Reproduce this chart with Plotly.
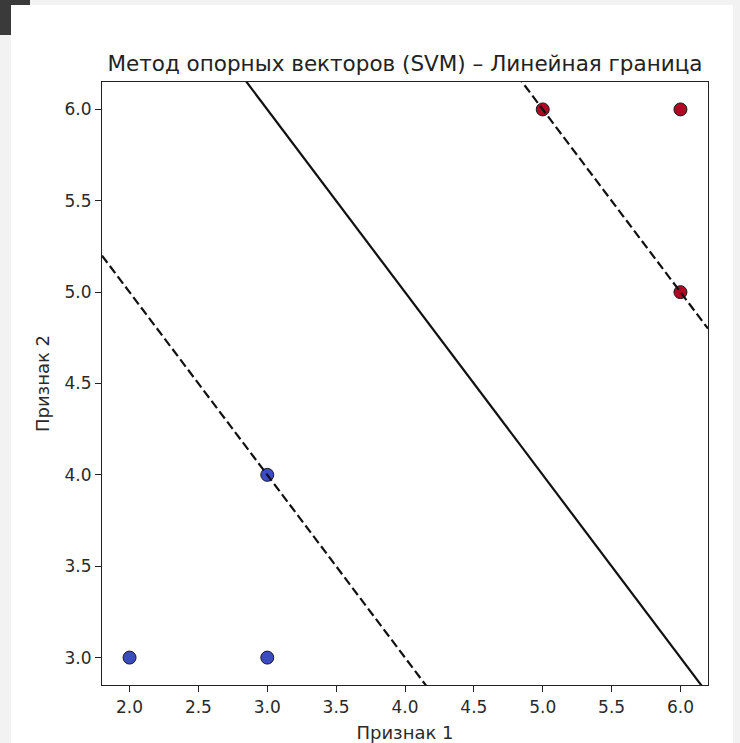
import plotly.graph_objects as go
import numpy as np

# Data
class_a_x = [2, 3, 3]
class_a_y = [3, 3, 4]
class_b_x = [5, 6, 6]
class_b_y = [6, 6, 5]
svm_w = [0.5, 0.5]
svm_b = -4.5
levels = [-1, 0, 1]
level_dash = ["dash", "solid", "dash"]
x_ticks = [2.0, 2.5, 3.0, 3.5, 4.0, 4.5, 5.0, 5.5, 6.0]
y_ticks = [3.0, 3.5, 4.0, 4.5, 5.0, 5.5, 6.0]
x_range = [1.8, 6.2]
y_range = [2.85, 6.15]

W, H = 740, 743
ML, MR, MT, MB = 102, 32, 82, 58
PW, PH = W - ML - MR, H - MT - MB


def px_x(p):
    return (p - ML) / PW


def px_y(p):
    return 1 - (p - MT) / PH


fig = go.Figure()

fig.add_trace(go.Scatter(
    x=class_a_x, y=class_a_y, mode="markers",
    marker=dict(size=13, color="#3b4cc0", line=dict(color="#1a1a1a", width=1)),
    showlegend=False, hoverinfo="skip"))
fig.add_trace(go.Scatter(
    x=class_b_x, y=class_b_y, mode="markers",
    marker=dict(size=13, color="#b40426", line=dict(color="#1a1a1a", width=1)),
    showlegend=False, hoverinfo="skip"))

xs = np.array(x_range)
for lev, d in zip(levels, level_dash):
    ys = (lev - svm_b - svm_w[0] * xs) / svm_w[1]
    fig.add_trace(go.Scatter(
        x=xs, y=ys, mode="lines",
        line=dict(color="#111111", width=2.2, dash="9px,4px" if d == "dash" else "solid"),
        showlegend=False, hoverinfo="skip"))

shapes = [
    # gray page + white panel
    dict(type="rect", xref="paper", yref="paper", layer="below",
         x0=px_x(11), x1=px_x(733), y0=px_y(5), y1=px_y(760),
         fillcolor="white", line=dict(width=0)),
    dict(type="rect", xref="paper", yref="paper", layer="below",
         x0=px_x(0), x1=px_x(11), y0=px_y(0), y1=px_y(35),
         fillcolor="#3a3a3a", line=dict(width=0)),
    dict(type="rect", xref="paper", yref="paper", layer="below",
         x0=px_x(0), x1=px_x(30), y0=px_y(0), y1=px_y(5),
         fillcolor="#3a3a3a", line=dict(width=0)),
]

tick_font = dict(family="DejaVu Sans", size=17, color="#2a2a2a")
label_font = dict(family="DejaVu Sans", size=18, color="#2a2a2a")

axis_common = dict(
    showgrid=False, zeroline=False, showline=True, mirror=True,
    linecolor="#222222", linewidth=1.2, ticks="outside", ticklen=6,
    tickwidth=1.2, tickcolor="#222222", tickfont=tick_font,
    automargin=False,
)

fig.update_layout(
    width=W, height=H,
    margin=dict(l=ML, r=MR, t=MT, b=MB, autoexpand=False),
    paper_bgcolor="#f2f2f2", plot_bgcolor="white",
    shapes=shapes,
    title=dict(text="Метод опорных векторов (SVM) – Линейная граница",
               x=405 / W, xanchor="center",
               y=1 - 63 / H, yanchor="middle", yref="container",
               font=dict(family="DejaVu Sans", size=21.5, color="#222222")),
    xaxis=dict(range=x_range, tickvals=x_ticks,
               ticktext=[f"{v:.1f}" for v in x_ticks],
               title=dict(text="Признак 1", standoff=10, font=label_font),
               **axis_common),
    yaxis=dict(range=y_range, tickvals=y_ticks,
               ticktext=[f"{v:.1f}" for v in y_ticks],
               title=dict(text="Признак 2", standoff=10, font=label_font),
               **axis_common),
)

fig.write_html(
    "out.html",
    config={"displayModeBar": False},
    post_script="document.body.style.margin='0';document.body.style.overflow='hidden';",
)
